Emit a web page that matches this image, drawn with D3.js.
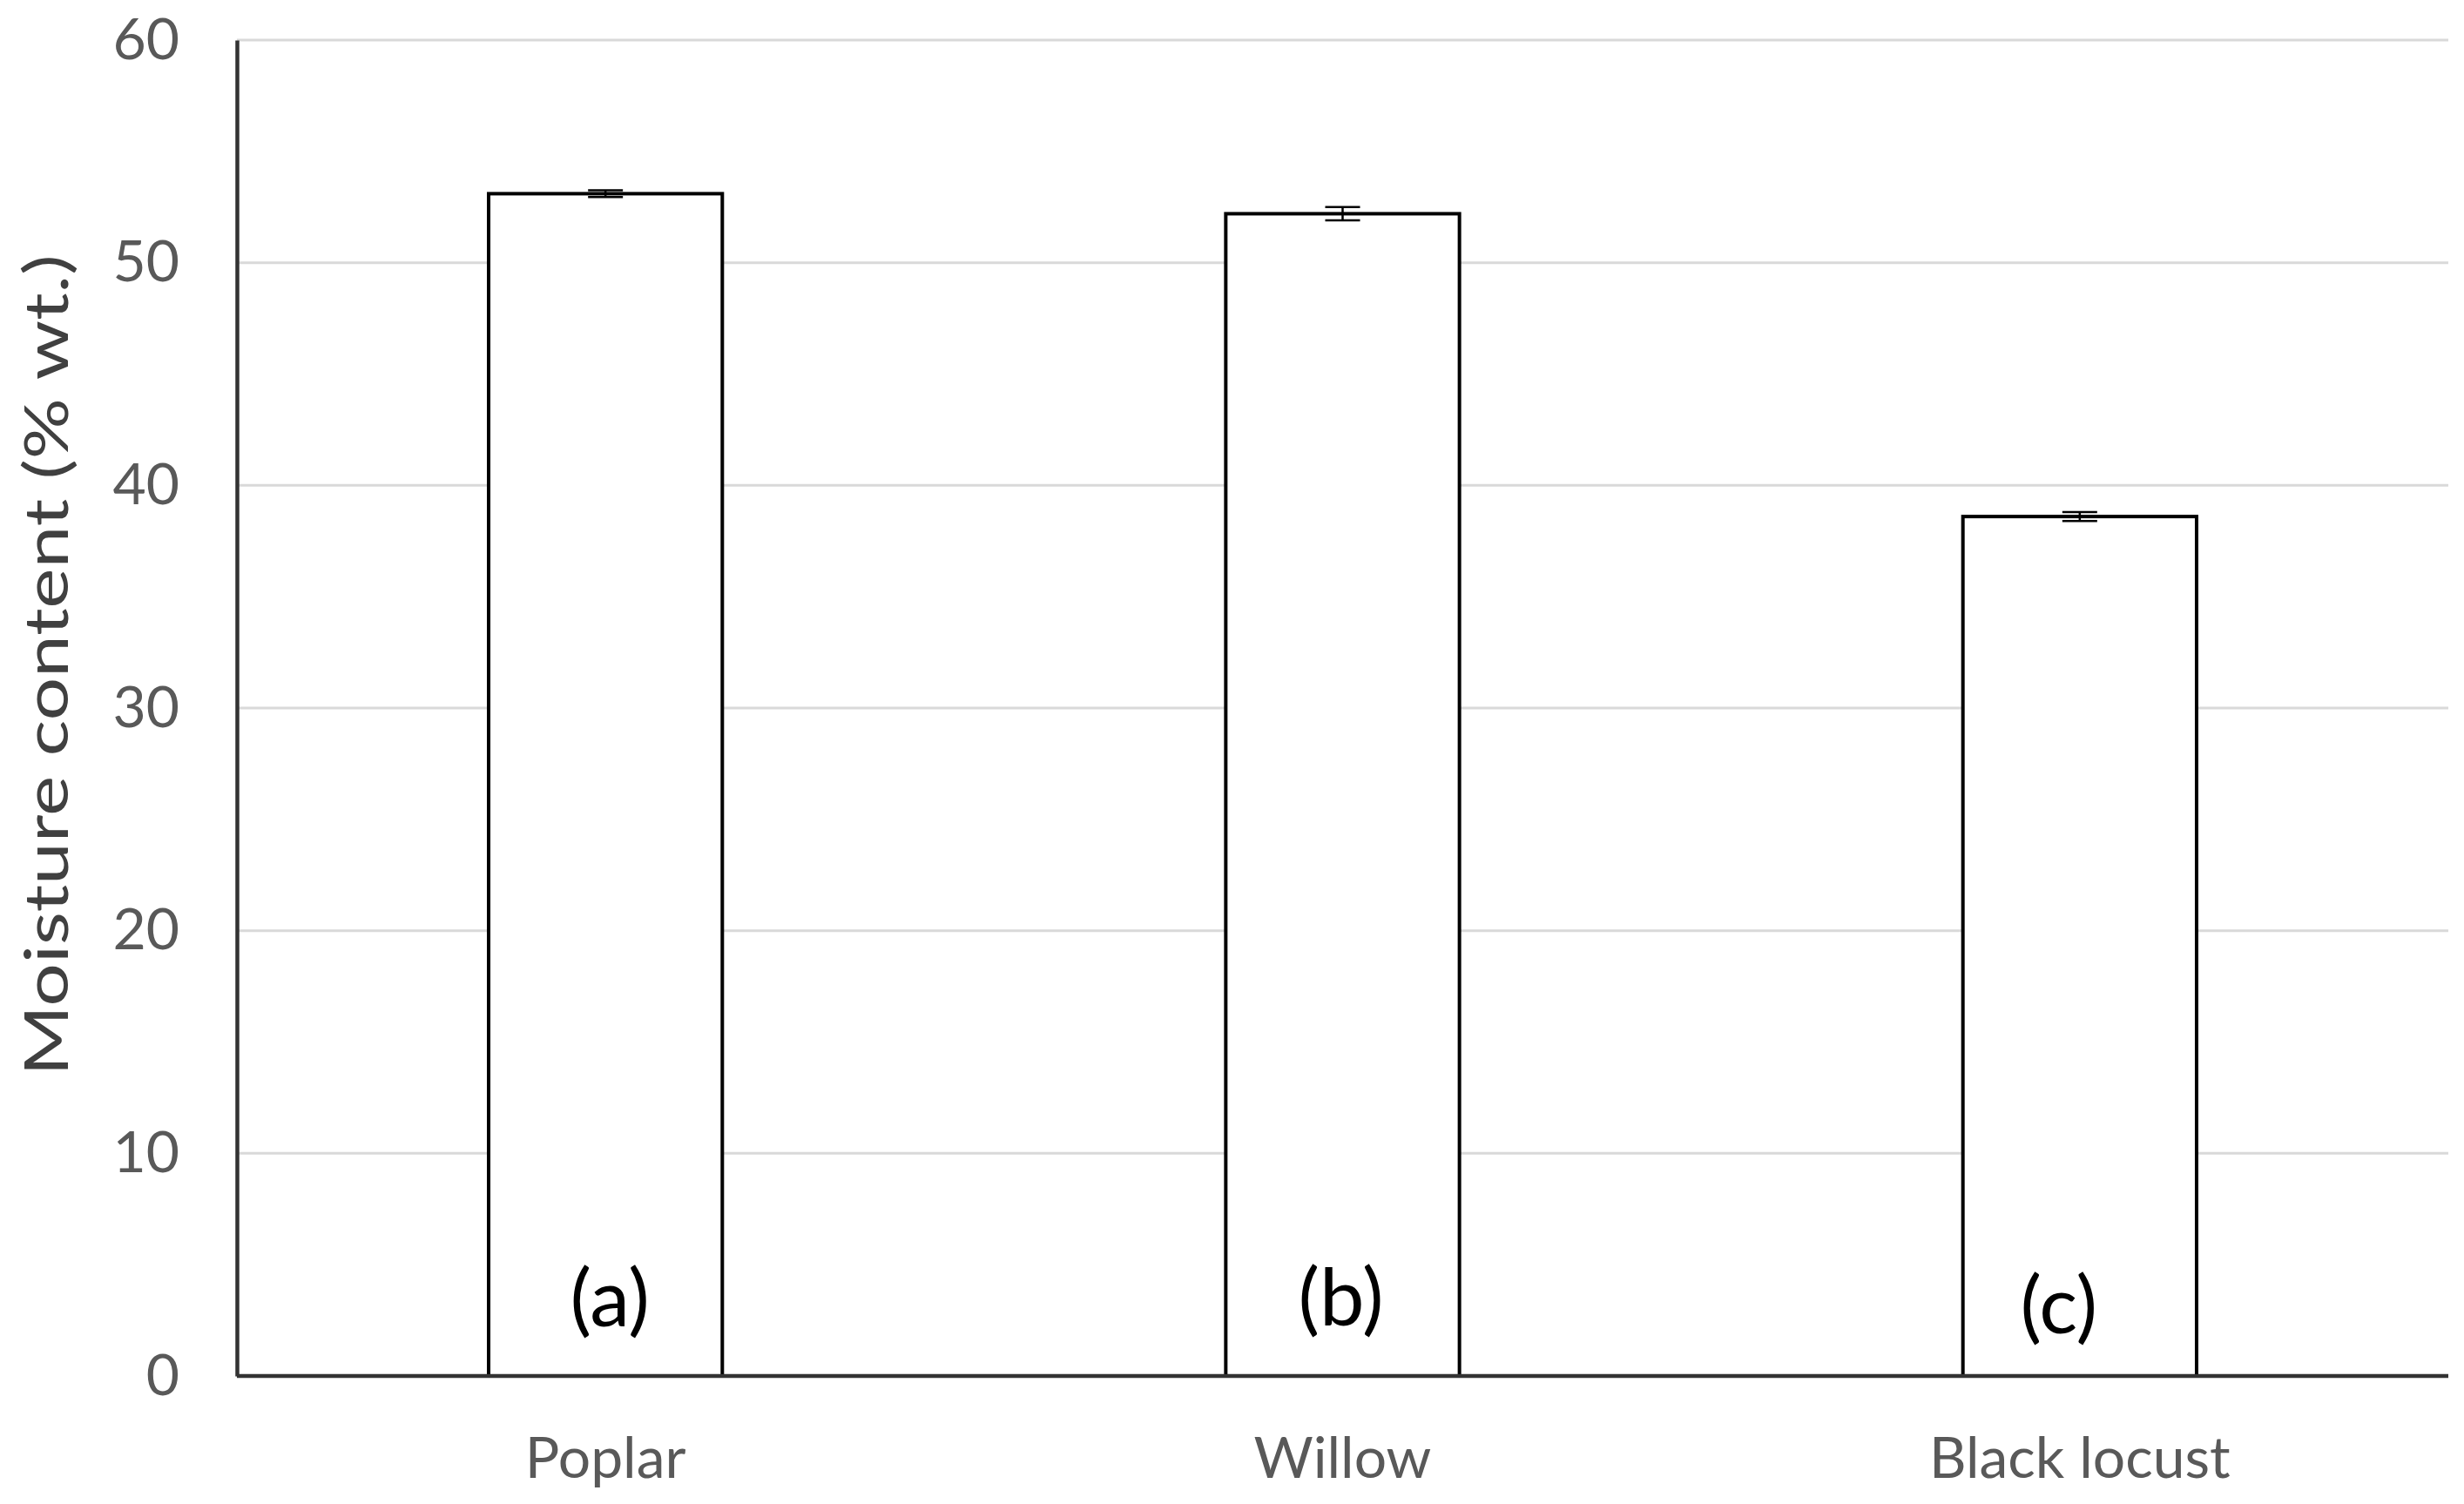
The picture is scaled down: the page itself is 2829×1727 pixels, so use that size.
<!DOCTYPE html>
<html><head><meta charset="utf-8">
<script src="https://cdn.jsdelivr.net/npm/d3@7"></script>
<style>body{margin:0;background:#fff}svg{display:block}text{font-family:Lato,"Open Sans",sans-serif}</style>
</head><body>
<script>
const categories = ["Poplar", "Willow", "Black locust"];
const values = [53.1, 52.2, 38.6];
const errors = [0.15, 0.3, 0.2];
const letters = ["(a)", "(b)", "(c)"];
const yTicks = [0, 10, 20, 30, 40, 50, 60];

const W = 2829, H = 1727;
const m = {left: 272, right: 2811, top: 46, bottom: 1580};
const svg = d3.select("body").append("svg").attr("width", W).attr("height", H);

const x = d3.scaleBand().domain(categories).range([m.left, m.right]).paddingInner(0.683).paddingOuter(0.3415);
const y = d3.scaleLinear().domain([0, 60]).range([m.bottom, m.top]);

// gridlines
svg.append("g").selectAll("line").data(yTicks.filter(d => d > 0)).join("line")
  .attr("x1", m.left).attr("x2", m.right)
  .attr("y1", d => y(d)).attr("y2", d => y(d))
  .attr("stroke", "#d9d9d9").attr("stroke-width", 3);

// bars
svg.append("g").selectAll("rect").data(categories).join("rect")
  .attr("x", d => x(d)).attr("width", x.bandwidth())
  .attr("y", (d, i) => y(values[i])).attr("height", (d, i) => y(0) - y(values[i]))
  .attr("fill", "#fff").attr("stroke", "#000").attr("stroke-width", 4);

// error bars
const eb = svg.append("g").attr("stroke", "#000").attr("stroke-width", 2.5);
categories.forEach((c, i) => {
  const cx = x(c) + x.bandwidth() / 2;
  const capW = 20;
  eb.append("line").attr("x1", cx).attr("x2", cx).attr("y1", y(values[i] + errors[i])).attr("y2", y(values[i] - errors[i]));
  eb.append("line").attr("x1", cx - capW).attr("x2", cx + capW).attr("y1", y(values[i] + errors[i])).attr("y2", y(values[i] + errors[i]));
  eb.append("line").attr("x1", cx - capW).attr("x2", cx + capW).attr("y1", y(values[i] - errors[i])).attr("y2", y(values[i] - errors[i]));
});

// letters
svg.append("g").selectAll("text").data(categories).join("text")
  .attr("x", d => x(d) + x.bandwidth() / 2 + [5, -2, -24][categories.indexOf(d)])
  .attr("y", (d, i) => [1523, 1522, 1531][i])
  .attr("text-anchor", "middle").attr("font-size", 92).attr("fill", "#000")
  .text((d, i) => letters[i]);

// y axis
const yAxis = svg.append("g").attr("transform", `translate(${m.left},0)`)
  .call(d3.axisLeft(y).tickValues(yTicks).tickSize(0).tickPadding(66));
yAxis.select(".domain").attr("stroke", "#333").attr("stroke-width", 4.5);
yAxis.selectAll("text").attr("font-size", 66).attr("fill", "#595959").attr("font-family", "Lato, sans-serif");

// x axis
const xAxis = svg.append("g").attr("transform", `translate(0,${m.bottom})`)
  .call(d3.axisBottom(x).tickSize(0).tickPadding(70));
xAxis.select(".domain").attr("stroke", "#333").attr("stroke-width", 4.5).attr("d", `M${m.left},0H${m.right}`);
xAxis.selectAll("text").attr("font-size", 66).attr("fill", "#595959").attr("font-family", "Lato, sans-serif");

// y title
svg.append("text").attr("transform", "translate(78,764) rotate(-90)")
  .attr("text-anchor", "middle").attr("font-size", 70).attr("fill", "#404040")
  .attr("textLength", 943).attr("lengthAdjust", "spacingAndGlyphs")
  .text("Moisture content (% wt.)");
</script>
</body></html>
